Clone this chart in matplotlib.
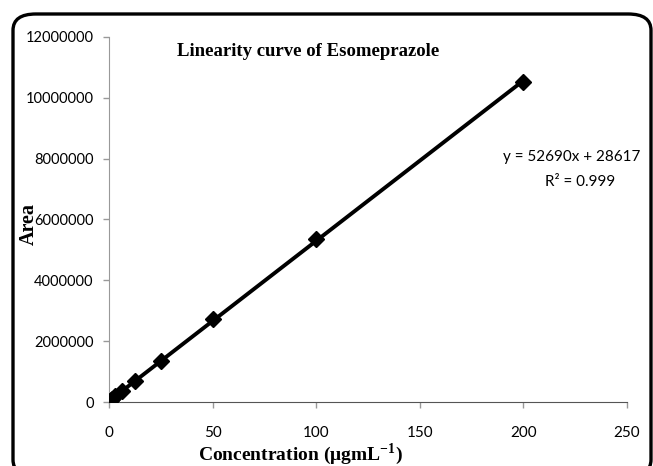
import numpy as np
import matplotlib
matplotlib.use("Agg")
import matplotlib.pyplot as plt
from matplotlib.patches import FancyBboxPatch

# Data
conc = [0.78, 1.5625, 3.125, 6.25, 12.5, 25, 50, 100, 200]
area = [65000, 110000, 190000, 350000, 690000, 1340000, 2740000, 5350000, 10520000]
slope = 52690
intercept = 28617
r2_text = "0.999"
xticks = [0, 50, 100, 150, 200, 250]
yticks = [0, 2000000, 4000000, 6000000, 8000000, 10000000, 12000000]

W, H = 653, 466
fig = plt.figure(figsize=(W / 100, H / 100), dpi=100)
ax = fig.add_axes([109 / W, (H - 402) / H, (627 - 109) / W, (402 - 37) / H])

tick_font = ['Lato', 'DejaVu Sans']
serif = ['Liberation Serif', 'DejaVu Serif']

xl = np.array([min(conc), max(conc)])
ax.plot(xl, slope * xl + intercept, color='black', lw=2.8, zorder=2)
ax.plot(conc, area, linestyle='none', marker='D', markersize=8,
        color='black', zorder=3)

ax.set_xlim(0, 250)
ax.set_ylim(0, 12000000)
ax.set_xticks(xticks)
ax.set_yticks(yticks)
ax.set_xticklabels([str(v) for v in xticks], family=tick_font, fontsize=11)
ax.set_yticklabels([str(v) for v in yticks], family=tick_font, fontsize=10.5)
for s in ['top', 'right']:
    ax.spines[s].set_visible(False)
ax.spines['left'].set_color('#999999')
ax.spines['bottom'].set_color('#555555')
ax.tick_params(axis='both', direction='out', length=4, color='#999999', width=1)
ax.tick_params(axis='y', pad=7)
ax.tick_params(axis='x', pad=13)

ax.set_title('Linearity curve of Esomeprazole', family=serif, fontweight='bold',
             fontsize=13.5, x=0.385, y=0.925)
fig.text(29 / W, 1 - 224 / H, 'Area', family=serif, fontweight='bold', fontsize=14.5,
         rotation=90, ha='center', va='center')
fig.text(300 / W, 1 - 454 / H, r'Concentration ($\mathregular{\mu}$gmL$^{\mathregular{-1}}$)',
         family=serif, fontweight='bold', fontsize=14, ha='center', va='center')

fig.text(572 / W, 1 - 157 / H, 'y = %dx + %d' % (slope, intercept), family=tick_font,
         fontsize=11, ha='center', va='center')
fig.text(580 / W, 1 - 182 / H, 'R² = ' + r2_text, family=tick_font,
         fontsize=11, ha='center', va='center')

box = FancyBboxPatch((13 / W, -10 / H), (651 - 13) / W, (H - 14 + 10) / H,
                     boxstyle='round,pad=0,rounding_size=0.035',
                     transform=fig.transFigure, fill=False, edgecolor='black',
                     lw=2.4, clip_on=False)
fig.patches.append(box)

fig.savefig('out.png', dpi=100)
